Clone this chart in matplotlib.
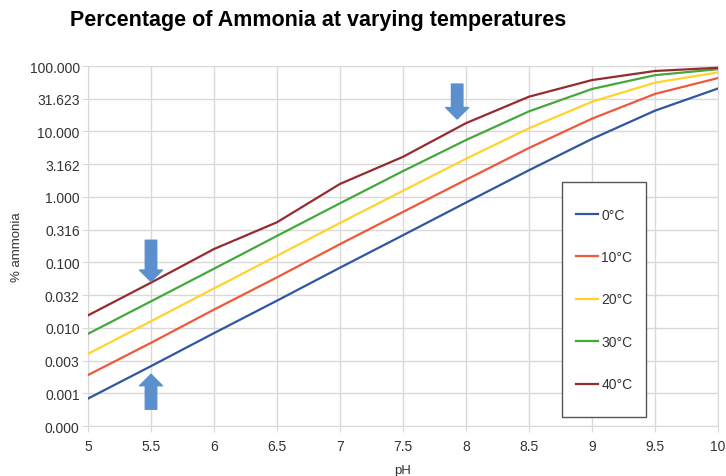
import numpy as np
import matplotlib
matplotlib.use("Agg")
import matplotlib.pyplot as plt

plt.rcParams['font.family'] = ['Liberation Sans', 'DejaVu Sans']

# pH values (x axis)
ph = [5, 5.5, 6, 6.5, 7, 7.5, 8, 8.5, 9, 9.5, 10]

# % ammonia, one list per temperature
pct_0c = [0.00083, 0.0026, 0.0083, 0.026, 0.083, 0.26, 0.82, 2.56, 7.7, 20.8, 45.4]
pct_10c = [0.0019, 0.0059, 0.019, 0.059, 0.19, 0.59, 1.83, 5.6, 15.7, 37.5, 65.5]
pct_20c = [0.0040, 0.0126, 0.040, 0.126, 0.40, 1.24, 3.83, 11.2, 28.5, 55.7, 80.0]
pct_30c = [0.0081, 0.0254, 0.080, 0.254, 0.80, 2.48, 7.4, 20.3, 44.6, 72.5, 89.5]
pct_40c = [0.0155, 0.049, 0.160, 0.41, 1.58, 4.1, 13.4, 34.0, 61.0, 84.0, 94.0]

series = [pct_0c, pct_10c, pct_20c, pct_30c, pct_40c]
labels = ['0°C', '10°C', '20°C', '30°C', '40°C']
colors = ['#2f56a0', '#f0583c', '#ffd32a', '#45a83a', '#952b30']

# y ticks every half decade
yticks = 10.0 ** np.arange(-3.5, 2.01, 0.5)
xticks = [5, 5.5, 6, 6.5, 7, 7.5, 8, 8.5, 9, 9.5, 10]
xticklabels = ['5', '5.5', '6', '6.5', '7', '7.5', '8', '8.5', '9', '9.5', '10']

# blue arrows drawn on the chart: (x, tail y, tip y)
arrows = [(5.5, 0.218, 0.051), (5.5, 0.00057, 0.00195), (7.93, 53, 15.5)]

fig = plt.figure(figsize=(7.26, 4.77), dpi=100)
ax = fig.add_axes([0.1212, 0.1048, 0.8678, 0.7547])

for vals, lab, col in zip(series, labels, colors):
    ax.plot(ph, vals, color=col, lw=1.6, label=lab, zorder=3)

ax.set_yscale('log')
ax.set_ylim(yticks[0], yticks[-1])
ax.set_xlim(5, 10)
ax.set_yticks(yticks)
ax.set_yticklabels(['%.3f' % v for v in yticks])
ax.yaxis.set_minor_locator(matplotlib.ticker.NullLocator())
ax.set_xticks(xticks)
ax.set_xticklabels(xticklabels)

grid_col = '#d9d9d9'
ax.grid(True, color=grid_col, lw=1.0, zorder=0)
for sp in ax.spines.values():
    sp.set_color(grid_col)
ax.tick_params(axis='both', length=4, color=grid_col, labelcolor='#333333', labelsize=10)
ax.tick_params(axis='x', pad=5)
ax.tick_params(axis='y', pad=2)

ax.set_xlabel('pH', fontsize=9.5, color='#333333', labelpad=8)
ax.set_ylabel('% ammonia', fontsize=9.5, color='#333333', labelpad=5)

fig.text(0.438, 0.958, 'Percentage of Ammonia at varying temperatures',
         ha='center', va='center', fontsize=15.5, fontweight='bold')

# arrows
for x, y0, y1 in arrows:
    ax.annotate('', xy=(x, y1), xytext=(x, y0),
                arrowprops=dict(arrowstyle='simple,head_length=0.55,head_width=1.1,tail_width=0.55',
                                mutation_scale=15, color='#5b8fce', shrinkA=0, shrinkB=0),
                zorder=4)

# legend box
box = plt.Rectangle((0.752, 0.025), 0.134, 0.653, transform=ax.transAxes,
                    facecolor='white', edgecolor='#555555', lw=1.0, zorder=5)
ax.add_patch(box)
leg = ax.legend(loc='center', bbox_to_anchor=(0.819, 0.3515), frameon=False,
                fontsize=10, labelspacing=2.05, handlelength=1.6, handletextpad=0.25)
leg.set_zorder(6)
for t in leg.get_texts():
    t.set_color('#333333')

fig.savefig('out.png', dpi=100)
